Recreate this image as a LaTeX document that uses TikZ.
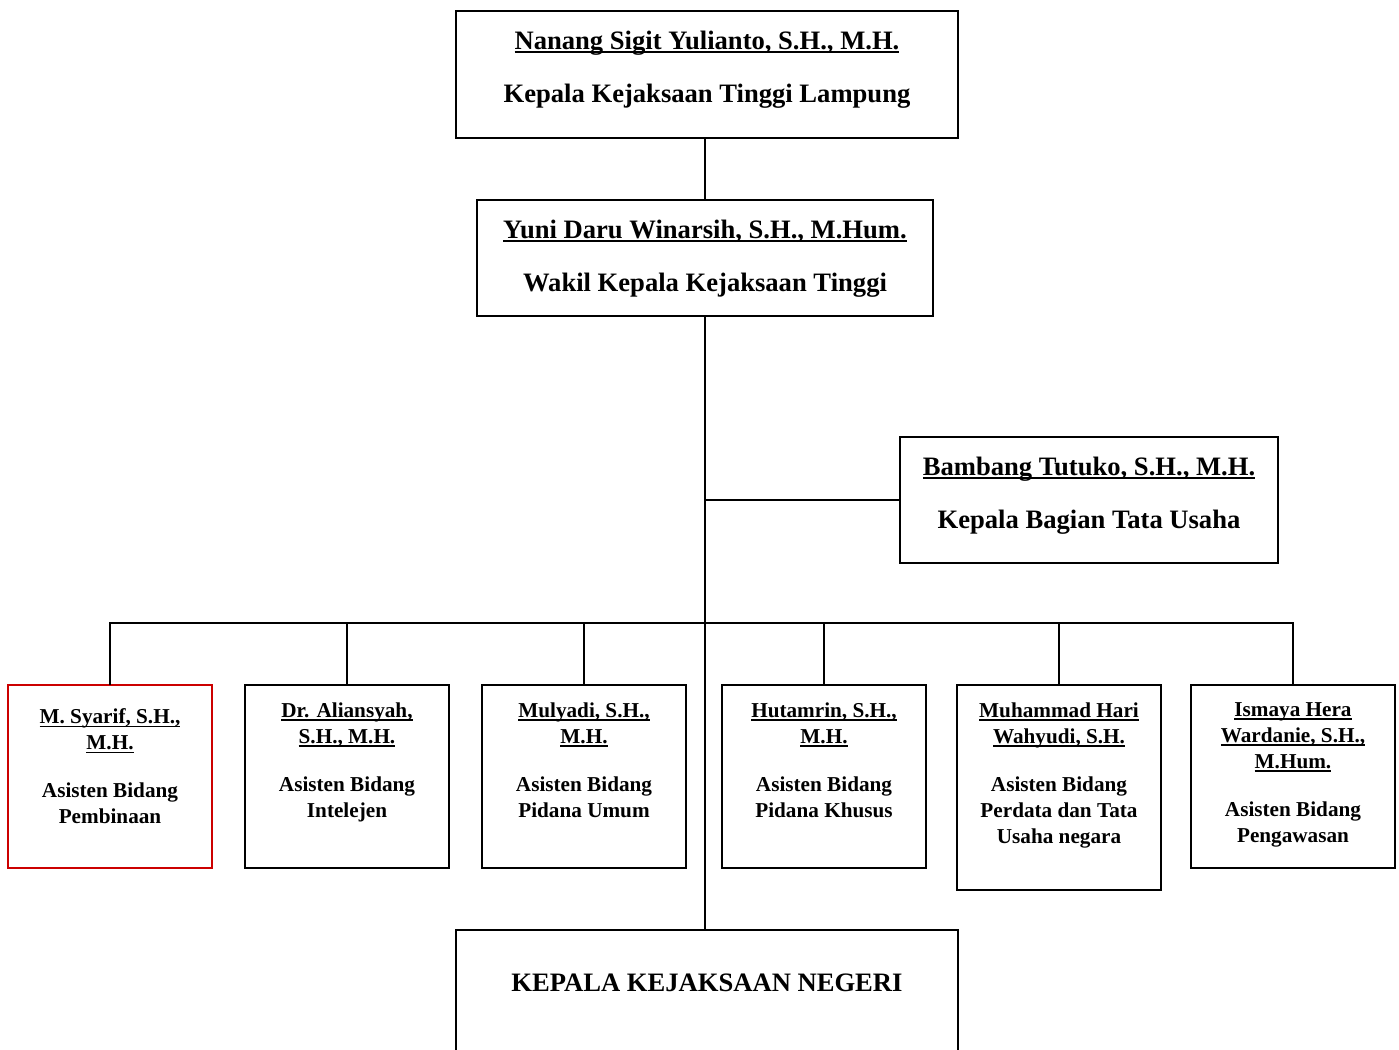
\documentclass[tikz,border=0pt]{standalone}
\usepackage{fontspec}
\setmainfont{Liberation Serif}
\usetikzlibrary{positioning}
\definecolor{redline}{RGB}{204,0,0}
\newsavebox{\nmbox}
\newcommand{\nm}[1]{\sbox{\nmbox}{#1}\rlap{\rule[-1.6pt]{\wd\nmbox}{0.8pt}}\usebox{\nmbox}}

\tikzset{
  box/.style={draw, line width=0.9pt, outer sep=0pt, inner sep=0pt},
  smallbox/.style={box, minimum width=102pt, minimum height=91.5pt},
  bigtxt/.style={font=\bfseries\fontsize{13.3}{26.5}\selectfont, align=center, inner sep=0pt},
  smalltxt/.style={font=\bfseries\fontsize{10.6}{13}\selectfont, align=center, inner sep=0pt},
  link/.style={line width=0.9pt}
}

\begin{document}
\begin{tikzpicture}[x=0.5pt, y=-0.5pt]
  \clip (0,0) rectangle (1399,1050);

  \node[box, minimum width=251pt, minimum height=63.5pt] (kajati) at (707,74.5) {}; % kepala
  \node[bigtxt, below=9.8pt of kajati.north] (kajatitxt) {\nm{Nanang Sigit Yulianto, S.H., M.H.}\\Kepala Kejaksaan Tinggi Lampung};

  \node[box, minimum width=228pt, minimum height=58pt] (wakajati) at (705,258) {}; % wakil
  \node[bigtxt, below=9.8pt of wakajati.north] (wakajatitxt) {\nm{Yuni Daru Winarsih, S.H., M.Hum.}\\Wakil Kepala Kejaksaan Tinggi};

  \node[box, minimum width=189pt, minimum height=63pt] (kabag) at (1089,500) {}; % tata usaha
  \node[bigtxt, below=9.8pt of kabag.north] (kabagtxt) {\nm{Bambang Tutuko, S.H., M.H.}\\Kepala Bagian Tata Usaha};

  \node[box, minimum width=251pt, minimum height=75pt] (kajari) at (707,1005) {}; % kejari
  \node[bigtxt, below=21.7pt of kajari.north] (kajaritxt) {KEPALA KEJAKSAAN NEGERI};

  % asisten
  \node[smallbox, draw=redline] (asbin) at (110,776.5) {};
  \node[smalltxt, below=11.8pt of asbin.north] (asbintxt) {\nm{M. Syarif, S.H.,}\\\nm{M.H.}\\[11pt]Asisten Bidang\\Pembinaan};

  \node[smallbox] (asintel) at (347,776.5) {};
  \node[smalltxt, below=8.8pt of asintel.north] (asinteltxt) {\nm{Dr. Aliansyah,}\\\nm{S.H., M.H.}\\[11pt]Asisten Bidang\\Intelejen};

  \node[smallbox] (aspidum) at (584,776.5) {};
  \node[smalltxt, below=8.8pt of aspidum.north] (aspidumtxt) {\nm{Mulyadi, S.H.,}\\\nm{M.H.}\\[11pt]Asisten Bidang\\Pidana Umum};

  \node[smallbox] (aspidsus) at (824,776.5) {};
  \node[smalltxt, below=8.8pt of aspidsus.north] (aspidsustxt) {\nm{Hutamrin, S.H.,}\\\nm{M.H.}\\[11pt]Asisten Bidang\\Pidana Khusus};

  \node[smallbox, minimum height=102.5pt] (asdatun) at (1059,787.5) {};
  \node[smalltxt, below=8.8pt of asdatun.north] (asdatuntxt) {\nm{Muhammad Hari}\\\nm{Wahyudi, S.H.}\\[11pt]Asisten Bidang\\Perdata dan Tata\\Usaha negara};

  \node[smallbox] (aswas) at (1293,776.5) {};
  \node[smalltxt, below=8.8pt of aswas.north] (aswastxt) {\nm{Ismaya Hera}\\\nm{Wardanie, S.H.,}\\\nm{M.Hum.}\\[11pt]Asisten Bidang\\Pengawasan};

  \coordinate (bus) at (705,623);

  % garis
  \draw[link] (wakajati.north |- kajati.south) -- (wakajati.north);
  \draw[link] (wakajati.south) -- (wakajati.south |- kajari.north);
  \draw[link] (wakajati.south |- kabag.west) -- (kabag.west);
  \draw[link] (asbin.north) -- (asbin.north |- bus) -- (aswas.north |- bus) -- (aswas.north);
  \foreach \b in {asintel, aspidum, aspidsus, asdatun}
    \draw[link] (\b.north) -- (\b.north |- bus);
\end{tikzpicture}
\end{document}
